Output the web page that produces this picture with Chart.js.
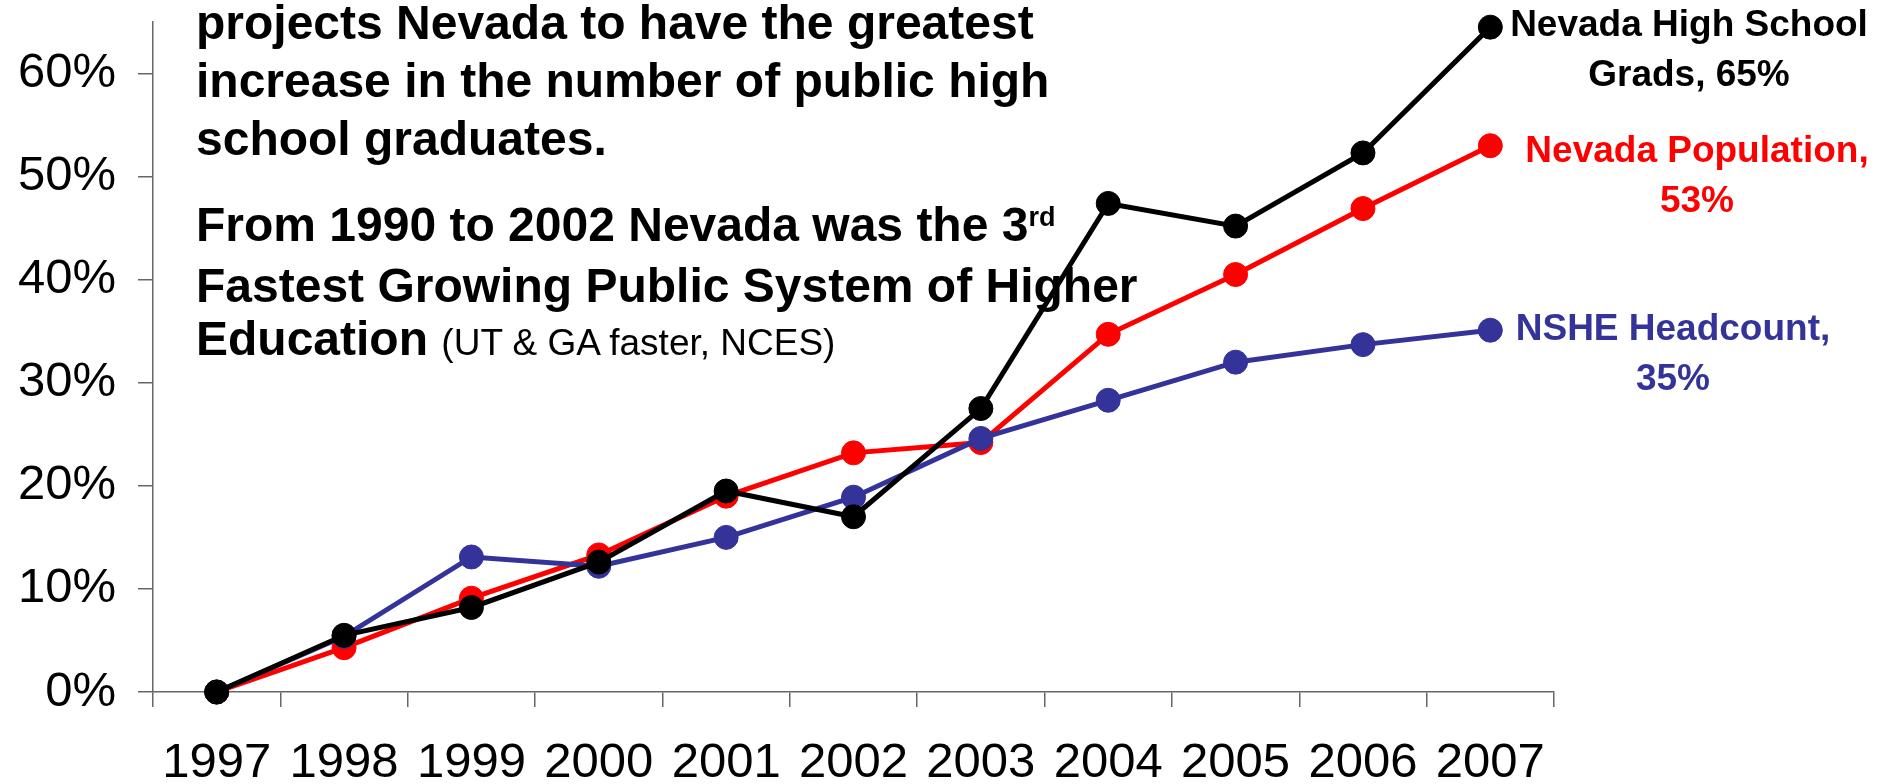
<!DOCTYPE html>
<html>
<head>
<meta charset="utf-8">
<script src="https://cdn.jsdelivr.net/npm/chart.js@4/dist/chart.umd.min.js"></script>
<style>
  body { margin: 0; background: #fff; }
  #wrap { position: relative; width: 1893px; height: 784px; overflow: hidden; }
  #chart { position: absolute; left: 0; top: 0; }
  .note { position: absolute; font-family: Arial, 'Liberation Sans', sans-serif; white-space: nowrap; color: #000; }
  .para1 { left: 196px; top: -6px; font-size: 48px; font-weight: bold; line-height: 58px; }
  .para2 { left: 196px; top: 198px; font-size: 48px; font-weight: bold; line-height: 53px; }
  .para2 sup { font-size: 27px; vertical-align: baseline; position: relative; top: -15px; }
  .para2 .small { font-size: 37px; font-weight: normal; }
  .end-label { position: absolute; font-family: Arial, 'Liberation Sans', sans-serif; font-weight: bold;
               font-size: 37px; line-height: 50px; text-align: center; white-space: nowrap; transform: translateX(-50%); }
</style>
</head>
<body>
<div id="wrap">
  <canvas id="chart" width="1893" height="784"></canvas>
  <div class="note para1">projects Nevada to have the greatest<br>increase in the number of public high<br>school graduates.</div>
  <div class="note para2">From 1990 to 2002 Nevada was the 3<sup>rd</sup><br>Fastest Growing Public System of Higher<br>Education <span class="small">(UT &amp; GA faster, NCES)</span></div>
  <div class="end-label" style="left:1689px; top:-1px; color:#000000;">Nevada High School<br>Grads, 65%</div>
  <div class="end-label" style="left:1697px; top:125px; color:#FF0000;">Nevada Population,<br>53%</div>
  <div class="end-label" style="left:1673px; top:303px; color:#333399;">NSHE Headcount,<br>35%</div>
</div>
<script>
const years = ['1997', '1998', '1999', '2000', '2001', '2002', '2003', '2004', '2005', '2006', '2007'];

// percent growth since 1997
const hsGrads = [0, 5.5, 8.2, 12.6, 19.5, 17.0, 27.5, 47.4, 45.2, 52.3, 64.5];
const nsheHeadcount = [0, 5.4, 13.1, 12.2, 15.0, 18.9, 24.6, 28.3, 32.0, 33.7, 35.1];
const nvPopulation = [0, 4.3, 9.1, 13.3, 19.0, 23.2, 24.2, 34.7, 40.5, 46.9, 53.0];

const yTicks = [0, 10, 20, 30, 40, 50, 60];

const tickFont = { family: "Arial, 'Liberation Sans', sans-serif", size: 49 };
const axisGray = '#666666';

function series(label, data, color, width) {
  return {
    label,
    data,
    borderColor: color,
    backgroundColor: color,
    pointBackgroundColor: color,
    pointBorderColor: color,
    borderWidth: width,
    pointRadius: 12,
    pointBorderWidth: 1,
    tension: 0,
    fill: false,
    clip: false
  };
}

new Chart(document.getElementById('chart').getContext('2d'), {
  type: 'line',
  data: {
    labels: years,
    datasets: [
      series('Nevada High School Grads', hsGrads, '#000000', 5),
      series('NSHE Headcount', nsheHeadcount, '#333399', 5),
      series('Nevada Population', nvPopulation, '#FF0000', 5)
    ]
  },
  options: {
    responsive: false,
    animation: false,
    layout: { padding: { top: 22, right: 339, bottom: 0, left: 0 } },
    plugins: { legend: { display: false }, tooltip: { enabled: false } },
    scales: {
      x: {
        offset: true,
        grid: { offset: true, drawOnChartArea: false, drawTicks: true, tickLength: 15, color: axisGray, lineWidth: 1.5 },
        border: { display: true, color: axisGray, width: 1.5 },
        ticks: { color: '#000', font: tickFont, padding: 27, maxRotation: 0, autoSkip: false },
        afterFit: s => { s.height = 92; s.paddingLeft = 0; s.paddingRight = 0; }
      },
      y: {
        min: 0,
        max: 65,
        grid: { drawOnChartArea: false, drawTicks: true, tickLength: 15, color: axisGray, lineWidth: 1.5 },
        border: { display: true, color: axisGray, width: 1.5 },
        ticks: { color: '#000', font: tickFont, padding: 22, callback: v => v + '%' },
        afterBuildTicks: s => { s.ticks = yTicks.map(v => ({ value: v })); },
        afterFit: s => { s.width = 153; s.paddingTop = 0; s.paddingBottom = 0; }
      }
    }
  }
});
</script>
</body>
</html>
